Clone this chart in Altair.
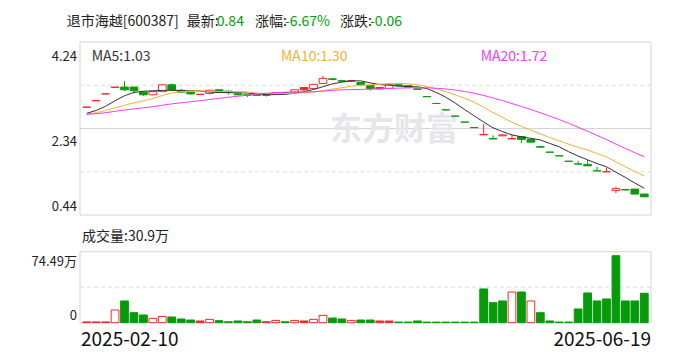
import altair as alt
import pandas as pd

# ---------------- data ----------------
opens = [2.81, 2.95, 3.10, 3.24, 3.25, 3.25, 3.14, 3.08, 3.15, 3.30,
         3.18, 3.14, 3.09, 3.11, 3.19, 3.16, 3.10, 3.08, 3.08, 3.07,
         3.09, 3.13, 3.14, 3.19, 3.22, 3.33, 3.43, 3.39, 3.38, 3.35,
         3.28, 3.21, 3.22, 3.30, 3.28, 3.21, 3.04, 2.89, 2.75, 2.61,
         2.48, 2.36, 2.20, 2.12, 2.18, 2.12, 2.10, 2.10, 1.94, 1.82,
         1.74, 1.62, 1.56, 1.55, 1.41, 1.39, 0.98, 1.00, 1.01, 0.90]
closes = [2.81, 2.95, 3.10, 3.25, 3.19, 3.17, 3.08, 3.15, 3.30, 3.19,
          3.14, 3.10, 3.09, 3.18, 3.14, 3.13, 3.08, 3.07, 3.07, 3.07,
          3.13, 3.11, 3.19, 3.24, 3.31, 3.44, 3.42, 3.38, 3.39, 3.30,
          3.22, 3.24, 3.31, 3.28, 3.25, 3.20, 3.04, 2.89, 2.75, 2.61,
          2.48, 2.36, 2.21, 2.11, 2.20, 2.11, 2.16, 2.04, 1.93, 1.82,
          1.74, 1.62, 1.56, 1.52, 1.41, 1.39, 1.02, 0.99, 0.90, 0.84]
highs = [2.81, 2.95, 3.10, 3.25, 3.38, 3.25, 3.15, 3.16, 3.31, 3.33,
         3.21, 3.14, 3.10, 3.19, 3.20, 3.17, 3.11, 3.08, 3.08, 3.08,
         3.14, 3.14, 3.20, 3.25, 3.32, 3.50, 3.45, 3.41, 3.41, 3.35,
         3.28, 3.24, 3.31, 3.32, 3.28, 3.21, 3.04, 2.89, 2.75, 2.61,
         2.48, 2.36, 2.44, 2.19, 2.22, 2.21, 2.17, 2.11, 1.96, 1.82,
         1.74, 1.62, 1.63, 1.65, 1.50, 1.48, 1.06, 1.00, 1.01, 0.91]
lows = [2.81, 2.95, 3.10, 3.24, 3.16, 3.11, 3.06, 3.07, 3.15, 3.17,
        3.13, 3.08, 3.08, 3.09, 3.13, 3.09, 3.07, 3.03, 3.06, 3.04,
        3.08, 3.10, 3.13, 3.15, 3.21, 3.32, 3.40, 3.36, 3.36, 3.29,
        3.17, 3.20, 3.22, 3.27, 3.24, 3.20, 3.04, 2.89, 2.75, 2.61,
        2.48, 2.36, 2.20, 2.11, 2.17, 2.11, 2.02, 2.04, 1.93, 1.82,
        1.74, 1.62, 1.56, 1.52, 1.41, 1.39, 0.92, 0.98, 0.90, 0.83]
# R = red filled, r = red hollow, g = green
candle_kind = list("RRRrgggrrg" "ggRrgggggR" "rgrRrrggrg" "gRrggggggg" "ggrgrRgggg" "gggggrrggg")
volume_kind = list("RRRrgggrrg" "ggRrgggggR" "rgrRrrggrg" "gRRggggggg" "gggggrgrgg" "gggggggggg")
volumes = [0.8, 0.8, 0.8, 13.3, 22.8, 10.5, 8.1, 4.5, 6.6, 6.0,
           3.9, 2.8, 1.8, 3.5, 2.1, 1.0, 1.8, 1.0, 2.8, 1.0,
           2.4, 1.0, 2.4, 1.8, 3.5, 7.7, 4.9, 3.9, 2.4, 2.8,
           2.8, 1.8, 1.8, 0.7, 0.7, 1.8, 0.6, 0.6, 0.6, 0.6,
           0.6, 0.6, 35.4, 21.0, 22.8, 32.2, 32.2, 22.8, 10.5, 1.8,
           0.7, 0.7, 14.4, 31.2, 22.8, 24.9, 70.3, 22.8, 22.8, 30.9]
ma5 = [2.674, 2.736, 2.828, 2.95, 3.06, 3.132, 3.158, 3.168, 3.178, 3.178,
       3.172, 3.176, 3.164, 3.14, 3.13, 3.128, 3.124, 3.12, 3.098, 3.084,
       3.084, 3.09, 3.114, 3.148, 3.196, 3.258, 3.32, 3.358, 3.388, 3.386,
       3.342, 3.306, 3.292, 3.27, 3.26, 3.256, 3.216, 3.132, 3.026, 2.898,
       2.754, 2.618, 2.482, 2.354, 2.272, 2.198, 2.158, 2.124, 2.088, 2.012,
       1.938, 1.83, 1.734, 1.652, 1.57, 1.50, 1.38, 1.266, 1.142, 1.028]
ma10 = [2.657, 2.688, 2.734, 2.795, 2.85, 2.903, 2.947, 2.998, 3.064, 3.119,
        3.152, 3.167, 3.166, 3.159, 3.154, 3.15, 3.15, 3.142, 3.119, 3.107,
        3.106, 3.107, 3.117, 3.123, 3.14, 3.171, 3.205, 3.236, 3.268, 3.291,
        3.30, 3.313, 3.325, 3.329, 3.323, 3.299, 3.261, 3.212, 3.148, 3.079,
        3.005, 2.917, 2.807, 2.69, 2.585, 2.476, 2.388, 2.303, 2.221, 2.142,
        2.068, 1.994, 1.929, 1.87, 1.791, 1.719, 1.605, 1.50, 1.397, 1.299]
ma20 = [2.649, 2.664, 2.687, 2.718, 2.745, 2.772, 2.794, 2.819, 2.852, 2.880,
        2.905, 2.928, 2.95, 2.977, 3.002, 3.027, 3.049, 3.07, 3.092, 3.113,
        3.129, 3.137, 3.142, 3.141, 3.147, 3.161, 3.178, 3.189, 3.194, 3.199,
        3.203, 3.21, 3.221, 3.226, 3.232, 3.235, 3.233, 3.224, 3.208, 3.185,
        3.153, 3.115, 3.066, 3.010, 2.954, 2.888, 2.825, 2.758, 2.685, 2.611,
        2.537, 2.456, 2.368, 2.28, 2.188, 2.098, 1.997, 1.902, 1.809, 1.721]

price_ticks = [4.24, 2.34, 0.44]
price_grid_dashed = [3.29, 1.39]
price_grid_solid = [2.34]
vol_max = 74.49
vol_grid = [37.245]
date_labels = ["2025-02-10", "2025-06-19"]
header_parts = [("退市海越[600387]", "k"), ("最新:", "k"), ("0.84", "g"), ("涨幅:", "k"),
                ("-6.67%", "g"), ("涨跌:", "k"), ("-0.06", "g")]
ma_labels = ["MA5:1.03", "MA10:1.30", "MA20:1.72"]
vol_label = "成交量:30.9万"

# ---------------- styling ----------------
RED = "#f0282d"
GREEN = "#079b0b"
MA_COLORS = ["#333333", "#f5b032", "#f03cf0"]
BORDER = "#d4d4d8"
GRID = "#dcdcdc"
FONT = "Noto Sans CJK SC"

W, H = 571, 281
PH = 173
VT, VB = 209.7, 280.7

n = len(closes)
df = pd.DataFrame({"i": list(range(n)), "open": opens, "close": closes, "high": highs,
                   "low": lows, "ck": candle_kind, "vk": volume_kind, "vol": volumes,
                   "ma5": ma5, "ma10": ma10, "ma20": ma20})

x_scale = alt.Scale(domain=list(range(n)), paddingInner=0.18, paddingOuter=0.3)
price_scale = alt.Scale(domain=[0.44, 4.24], range=[PH, 0], nice=False, zero=False)
vol_scale = alt.Scale(domain=[0, vol_max], range=[VB, VT], nice=False)
kinds = ["R", "r", "g"]
fill_scale = alt.Scale(domain=kinds, range=[RED, "#ffffff", GREEN])
stroke_scale = alt.Scale(domain=kinds, range=[RED, RED, GREEN])

X = alt.X("i:O", scale=x_scale, axis=None)

layers = []

# panel borders
for y0, y1 in [(0, PH), (VT, VB)]:
    layers.append(alt.Chart(pd.DataFrame({"a": [0]})).mark_rect(
        fill="transparent", stroke=BORDER, strokeWidth=1).encode(
        x=alt.value(0), x2=alt.value(W), y=alt.value(y0), y2=alt.value(y1)))

# grid lines
layers.append(alt.Chart(pd.DataFrame({"v": price_grid_dashed})).mark_rule(
    color=GRID, strokeDash=[4, 3], strokeWidth=1).encode(
    y=alt.Y("v:Q", scale=price_scale, axis=None), x=alt.value(0), x2=alt.value(W)))
layers.append(alt.Chart(pd.DataFrame({"v": price_grid_solid})).mark_rule(
    color=BORDER, strokeWidth=1).encode(
    y=alt.Y("v:Q", scale=price_scale, axis=None), x=alt.value(0), x2=alt.value(W)))
layers.append(alt.Chart(pd.DataFrame({"v": vol_grid})).mark_rule(
    color=GRID, strokeDash=[4, 3], strokeWidth=1).encode(
    y=alt.Y("v:Q", scale=vol_scale, axis=None), x=alt.value(0), x2=alt.value(W)))

# watermark
layers.append(alt.Chart(pd.DataFrame({"t": ["东方财富"]})).mark_text(
    font=FONT, fontSize=32, fontWeight="bold", color="#e6e6ea", align="left",
    baseline="middle").encode(x=alt.value(250), y=alt.value(88), text="t:N"))

# volume bars
layers.append(alt.Chart(df).mark_bar(strokeWidth=1).encode(
    x=X, y=alt.Y("vol:Q", scale=vol_scale, axis=None),
    fill=alt.Fill("vk:N", scale=fill_scale, legend=None),
    stroke=alt.Stroke("vk:N", scale=stroke_scale, legend=None)))

# candle wicks and bodies
layers.append(alt.Chart(df).mark_rule(strokeWidth=1).encode(
    x=X, y=alt.Y("low:Q", scale=price_scale, axis=None), y2="high:Q",
    stroke=alt.Stroke("ck:N", scale=stroke_scale, legend=None)))
layers.append(alt.Chart(df).mark_bar(strokeWidth=1).encode(
    x=X, y=alt.Y("open:Q", scale=price_scale, axis=None), y2="close:Q",
    fill=alt.Fill("ck:N", scale=fill_scale, legend=None),
    stroke=alt.Stroke("ck:N", scale=stroke_scale, legend=None)))

# moving averages
for col, c in zip(["ma5", "ma10", "ma20"], MA_COLORS):
    layers.append(alt.Chart(df).mark_line(color=c, strokeWidth=1).encode(
        x=X, y=alt.Y(f"{col}:Q", scale=price_scale, axis=None)))

# price axis labels
for v, dy in zip(price_ticks, [15, 13.5, -8]):
    layers.append(alt.Chart(pd.DataFrame({"v": [v]})).mark_text(
        font=FONT, fontSize=13, color="#222222", align="right", baseline="middle", dy=dy).encode(
        x=alt.value(-3), y=alt.Y("v:Q", scale=price_scale, axis=None),
        text=alt.Text("v:Q", format=".2f")))

# volume axis labels
for v, t, dy in [(vol_max, f"{vol_max:.2f}万", 10.3), (0, "0", -6.7)]:
    layers.append(alt.Chart(pd.DataFrame({"v": [v], "t": [t]})).mark_text(
        font=FONT, fontSize=13, color="#222222", align="right", baseline="middle", dy=dy).encode(
        x=alt.value(-3), y=alt.Y("v:Q", scale=vol_scale, axis=None), text="t:N"))

# date labels
for t, xp, al in [(date_labels[0], 1, "left"), (date_labels[1], W, "right")]:
    layers.append(alt.Chart(pd.DataFrame({"t": [t]})).mark_text(
        font=FONT, fontSize=19, color="#111111", align=al, baseline="middle").encode(
        x=alt.value(xp), y=alt.value(297.5), text="t:N"))

# header
header_x = [-13.3, 106.7, 136.7, 175, 205, 260, 290]
for (t, k), xp in zip(header_parts, header_x):
    layers.append(alt.Chart(pd.DataFrame({"t": [t]})).mark_text(
        font=FONT, fontSize=14, color=(GREEN if k == "g" else "#222222"),
        align="left", baseline="middle").encode(
        x=alt.value(xp), y=alt.value(-20.3), text="t:N"))

# MA labels
for t, c, xp in zip(ma_labels, MA_COLORS, [11.7, 201, 400.7]):
    layers.append(alt.Chart(pd.DataFrame({"t": [t]})).mark_text(
        font=FONT, fontSize=14, color=c, align="left", baseline="middle").encode(
        x=alt.value(xp), y=alt.value(14.7), text="t:N"))

# volume title
layers.append(alt.Chart(pd.DataFrame({"t": [vol_label]})).mark_text(
    font=FONT, fontSize=14, color="#222222", align="left", baseline="middle").encode(
    x=alt.value(2), y=alt.value(195), text="t:N"))

chart = alt.layer(*layers).resolve_scale(y="independent").properties(
    width=W, height=H,
    autosize=alt.AutoSizeParams(type="none"),
    padding={"left": 72, "top": 34, "right": 29, "bottom": 29},
).configure_view(strokeWidth=0)

chart.save("out.html", embed_options={"renderer": "svg", "actions": False})
